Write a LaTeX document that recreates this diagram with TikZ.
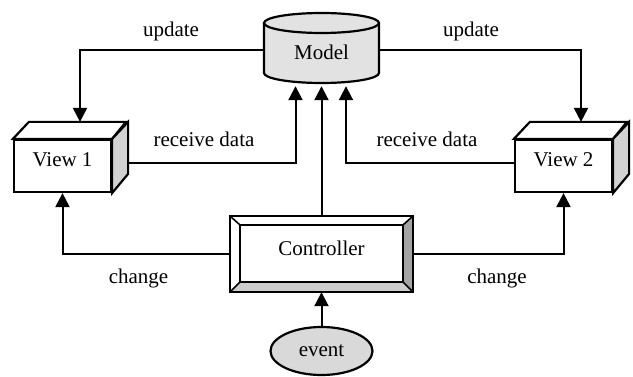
\documentclass[tikz,border=0pt]{standalone}
\usepackage{fontspec}
\setmainfont{Liberation Serif}
\usetikzlibrary{arrows.meta,calc,shapes.geometric}

\definecolor{cylfill}{HTML}{E2E2E2}
\definecolor{sideface}{HTML}{D2D2D2}
\definecolor{bevdark}{HTML}{A4A4A4}
\definecolor{bevlight}{HTML}{CDCDCD}
\definecolor{evfill}{HTML}{D9D9D9}

\tikzset{
  base/.style={font=\fontsize{21}{25}\selectfont},
  outline/.style={draw=black, line width=2.2pt, line join=miter},
  viewface/.style={base, outline, fill=white, minimum width=97pt, minimum height=52pt,
    inner sep=0pt, text depth=12pt},
  arr/.style={line width=2pt, -{Triangle[length=14pt,width=14pt]}},
  lbl/.style={base, anchor=base, inner sep=0pt},
}

\begin{document}
\begin{tikzpicture}[x=1pt,y=-1pt]
\useasboundingbox (0,0) rectangle (633,377);

% ---- Model (cylinder) ----
\fill[cylfill] (264,23) -- (264,73)
  arc[start angle=180,end angle=0,x radius=57.5,y radius=10]
  -- (379,23)
  arc[start angle=0,end angle=-180,x radius=57.5,y radius=10] -- cycle;
\draw[outline] (264,23) -- (264,73)
  arc[start angle=180,end angle=0,x radius=57.5,y radius=10] -- (379,23);
\draw[outline] (321.5,23) ellipse[x radius=57.5,y radius=10];
\node[base, minimum width=115pt, minimum height=70pt, inner sep=0pt,
      text height=24pt, text depth=0pt] (model) at (321.5,48) {Model};

% ---- View boxes ----
\foreach \nm/\cx/\txt in {v1/62.5/View 1, v2/563.5/View 2}{
  \node[viewface] (\nm) at (\cx,166) {\txt};
  \draw[outline, fill=white] (\nm.north west) -- ++(16,-17) -- ++(97,0)
    -- (\nm.north east) -- cycle;
  \draw[outline, fill=sideface] (\nm.north east) -- ++(16,-17) -- ++(0,52)
    -- (\nm.south east) -- cycle;
}

% ---- Controller (bevelled button) ----
\node[base, minimum width=183pt, minimum height=76pt, inner sep=0pt,
      text depth=12pt] (ctrl) at (321.5,254) {};
\coordinate (inw) at ($(ctrl.north west)+(10,9)$);
\coordinate (ine) at ($(ctrl.north east)+(-10,9)$);
\coordinate (isw) at ($(ctrl.south west)+(10,-10)$);
\coordinate (ise) at ($(ctrl.south east)+(-10,-10)$);
\fill[white] (ctrl.north west) -- (ctrl.north east) -- (ine) -- (inw) -- cycle;
\fill[white] (ctrl.north west) -- (inw) -- (isw) -- (ctrl.south west) -- cycle;
\fill[bevdark] (ctrl.north east) -- (ctrl.south east) -- (ise) -- (ine) -- cycle;
\fill[bevlight] (ctrl.south west) -- (ctrl.south east) -- (ise) -- (isw) -- cycle;
\draw[outline] (ctrl.north west) rectangle (ctrl.south east);
\draw[outline] (inw) rectangle (ise);
\draw[line width=1.6pt] (ctrl.north west) -- (inw) (ctrl.north east) -- (ine)
  (ctrl.south west) -- (isw) (ctrl.south east) -- (ise);
\node[base, text depth=12pt] (ctrltxt) at (ctrl.center) {Controller};

% ---- event ----
\node[base, ellipse, outline, fill=evfill, minimum width=102pt, minimum height=48pt,
      inner sep=0pt] (ev) at (321.5,351) {event};

% ---- connectors ----
\draw[arr] ($(model.west)+(0,2)$) -| ($(v1.north)+(17.5,-17)$);
\draw[arr] ($(model.east)+(0,2)$) -| ($(v2.north)+(17.5,-17)$);
\draw[arr] ($(v1.east)+(16,-3)$) -| ($(model.south)+(-26,3)$);
\draw[arr] ($(v2.west)+(0,-3)$) -| ($(model.south)+(24.5,3)$);
\draw[arr] (ctrl.north) -- ($(model.south)+(0,3)$);
\draw[arr] (ctrl.west) -| (v1.south);
\draw[arr] (ctrl.east) -| (v2.south);
\draw[arr] (ev.north) -- (ctrl.south);

% ---- labels ----
\node[lbl] (lu1) at (171,37) {update};
\node[lbl] (lu2) at (471,37) {update};
\node[lbl] (lr1) at (204,147) {receive data};
\node[lbl] (lr2) at (427,147) {receive data};
\node[lbl] (lc1) at (138.5,284) {change};
\node[lbl] (lc2) at (497,284) {change};
\end{tikzpicture}
\end{document}
